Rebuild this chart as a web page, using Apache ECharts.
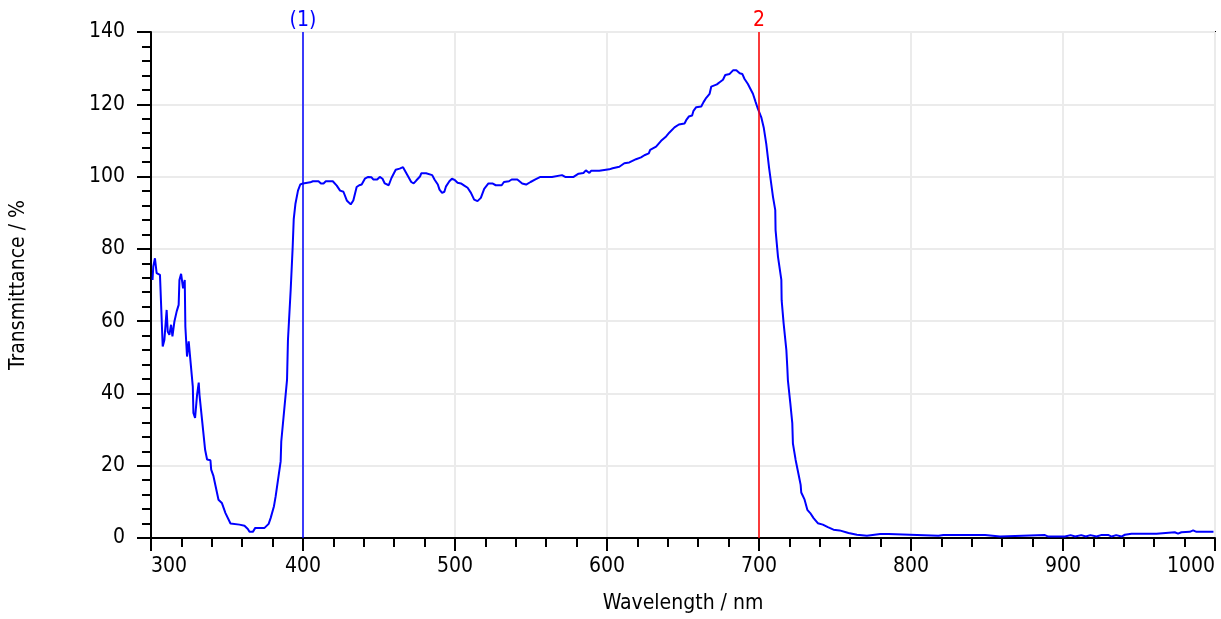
<!DOCTYPE html>
<html>
<head>
<meta charset="utf-8">
<script src="https://cdn.jsdelivr.net/npm/echarts@6/dist/echarts.min.js"></script>
<style>html,body{margin:0;padding:0;background:#fff;}#c{width:1221px;height:619px;}</style>
</head>
<body>
<div id="c"></div>
<script>
const wavelength = [301.0,301.5,302.6,303.7,304.8,305.9,307.7,308.8,310.3,311.0,312.1,313.2,314.1,315.4,316.9,318.2,318.7,319.8,321.1,322.2,322.6,323.7,324.8,325.9,327.5,327.9,329.0,330.3,331.4,331.9,333.0,335.6,336.9,339.1,339.6,341.1,344.4,346.6,349.0,352.3,358.2,359.3,361.5,363.7,364.8,367.0,368.6,374.7,377.4,378.7,380.9,382.0,385.3,385.7,389.5,390.1,391.9,393.2,393.9,395.0,396.7,398.2,400.0,
404.8,406.5,410.2,411.8,413.5,415.0,419.6,422.2,424.4,426.6,428.8,431.4,433.1,435.3,437.0,438.6,440.7,442.9,445.1,446.2,448.8,450.5,452.3,453.8,456.4,458.2,461.0,463.6,465.8,466.9,469.1,471.2,472.8,474.5,477.1,477.8,481.0,482.1,485.0,486.5,488.7,489.8,491.5,493.0,494.1,496.3,498.0,500.0,501.7,503.9,506.1,508.3,510.5,512.6,514.8,517.0,519.2,522.0,524.6,526.8,530.7,532.2,535.5,537.3,541.0,544.2,546.8,549.7,552.9,556.2,563.8,564.9,570.4,572.5,578.0,581.3,584.5,586.1,588.4,589.5,594.9,596.0,601.5,
603.7,604.8,608.1,609.2,611.4,614.7,615.8,619.1,622.4,624.6,627.5,628.4,632.3,635.6,638.9,641.1,644.4,647.3,651.0,652.1,653.8,656.0,656.9,658.7,662.0,663.5,665.3,667.5,668.6,669.7,672.3,674.1,676.3,677.8,680.7,682.9,685.1,687.3,689.0,690.5,692.7,694.3,696.0,697.8,699.3,701.5,703.1,704.8,706.7,709.2,710.7,710.9,712.5,714.7,714.9,716.2,718.0,718.6,719.0,720.6,721.9,722.3,724.1,726.3,727.4,727.8,730.0,731.8,733.7,735.9,738.7,742.0,745.3,749.0,753.0,758.9,764.4,771.0,772.1,779.8,780.9,785.2,786.3,818.1,819.2,821.3,836.7,837.8,838.9,848.7,849.8,858.6,859.7,888.1,890.3,898.0,899.1,901.3,905.0,908.0,912.0,915.0,918.0,922.0,925.0,930.0,932.0,935.0,938.5,940.7,945.1,956.0,957.1,961.5,962.6,973.5,975.7,977.9,983.4,985.6,987.8,995.4,999.0];
const transmittance = [71.4,75.1,77.4,73.3,73.7,72.8,53.0,54.8,63.1,57.1,56.2,59.0,55.8,59.9,62.7,64.5,71.4,73.1,69.1,71.4,58.5,50.2,54.4,49.3,41.9,34.6,33.2,39.6,43.0,39.6,39.2,24.4,21.7,21.5,18.9,17.1,10.6,9.7,6.9,4.0,3.7,3.4,3.4,2.5,1.7,1.7,2.8,2.8,3.9,5.5,8.8,11.5,21.2,26.7,43.8,54.8,68.7,80.4,88.2,92.4,96.1,97.8,98.1,
98.4,98.7,98.7,98.1,98.1,98.7,98.7,97.5,96.1,95.8,93.4,92.3,93.4,97.1,97.6,97.8,99.4,99.9,99.8,99.2,99.2,99.9,99.4,98.1,97.6,99.6,101.9,102.2,102.6,102.2,100.1,98.5,98.1,98.9,100.1,100.9,100.9,100.4,100.4,99.2,97.8,96.4,95.5,95.8,97.3,98.7,99.4,99.0,98.3,98.1,97.5,96.9,95.5,93.6,93.2,94.1,96.6,98.1,98.1,97.6,97.6,98.5,98.7,99.2,99.2,98.1,97.8,98.5,99.2,99.9,99.9,100.4,100.4,99.9,99.9,100.8,101.0,101.7,101.0,101.6,101.6,102.0,102.0,
102.3,102.7,102.7,103.2,103.7,103.9,104.4,104.8,105.3,105.9,106.4,107.4,108.3,109.9,111.1,112.2,113.6,114.4,114.7,115.6,116.6,116.9,118.2,119.2,119.4,120.6,121.8,122.9,124.9,125.4,125.5,126.1,126.8,128.1,128.4,129.4,129.4,128.6,128.4,127.0,125.6,124.3,122.9,120.6,118.7,116.4,113.6,109.0,102.2,94.4,90.7,85.2,77.8,71.4,65.8,59.4,52.0,47.4,43.7,37.3,31.8,26.2,21.6,17.0,14.7,12.6,10.6,7.8,6.9,5.5,4.1,3.7,3.0,2.3,2.1,1.4,0.9,0.6,1.1,1.1,0.6,1.1,0.6,0.6,0.4,0.8,0.8,1.2,0.8,0.8,0.4,0.4,0.8,0.8,0.4,0.4,0.8,0.4,0.8,0.4,0.8,0.4,0.8,0.4,0.8,0.8,0.4,0.8,0.4,0.9,1.2,1.2,1.6,1.2,1.6,1.6,1.2,1.6,1.7,2.1,1.7,1.7,1.7];
const markers = [{x: 400, label: '(1)', color: '#0000ff'}, {x: 700, label: '2', color: '#ff0000'}];
const xTicks = {min: 300, max: 1000, interval: 100};
const yTicks = {min: 0, max: 140, interval: 20};

const font = 'DejaVu Sans Condensed';
const chart = echarts.init(document.getElementById('c'));
chart.setOption({
  animation: false,
  backgroundColor: '#fff',
  textStyle: {fontFamily: font},
  grid: {left: 151, right: 6, top: 32, bottom: 80, show: true, borderColor: '#000', borderWidth: 2, backgroundColor: 'transparent'},
  xAxis: {
    type: 'value', min: xTicks.min, max: xTicks.max, interval: xTicks.interval,
    name: 'Wavelength / nm', nameLocation: 'middle', nameGap: 55,
    nameTextStyle: {fontFamily: font, fontSize: 21, color: '#000'},
    axisLine: {lineStyle: {color: '#000', width: 2}},
    axisTick: {show: true, length: 13, lineStyle: {color: '#000', width: 2}},
    minorTick: {show: true, splitNumber: 5, length: 9, lineStyle: {color: '#000', width: 2}},
    axisLabel: {fontFamily: font, fontSize: 21, color: '#000', margin: 18, alignMinLabel: 'left', alignMaxLabel: 'right', formatter: v => String(v)},
    splitLine: {show: true, lineStyle: {color: '#ebebeb', width: 2}}
  },
  yAxis: {
    type: 'value', min: yTicks.min, max: yTicks.max, interval: yTicks.interval,
    name: 'Transmittance / %', nameLocation: 'middle', nameGap: 122,
    nameTextStyle: {fontFamily: font, fontSize: 21, color: '#000'},
    axisLine: {show: true, lineStyle: {color: '#000', width: 2}},
    axisTick: {show: true, length: 14, lineStyle: {color: '#000', width: 2}},
    minorTick: {show: true, splitNumber: 5, length: 9, lineStyle: {color: '#000', width: 2}},
    axisLabel: {fontFamily: font, fontSize: 21, color: '#000', margin: 26, formatter: v => String(v)},
    splitLine: {show: true, lineStyle: {color: '#ebebeb', width: 2}}
  },
  series: [{
    type: 'line',
    data: wavelength.map((w, i) => [w, transmittance[i]]),
    showSymbol: false,
    lineStyle: {color: '#0000ff', width: 2},
    z: 3,
    markLine: {
      symbol: 'none', silent: true,
      data: markers.map(m => ({
        xAxis: m.x,
        lineStyle: {color: m.color, width: 1.5, type: 'solid'},
        label: {show: true, position: 'end', formatter: m.label, color: m.color, fontFamily: font, fontSize: 21, distance: 1}
      }))
    }
  }]
});
</script>
</body>
</html>
